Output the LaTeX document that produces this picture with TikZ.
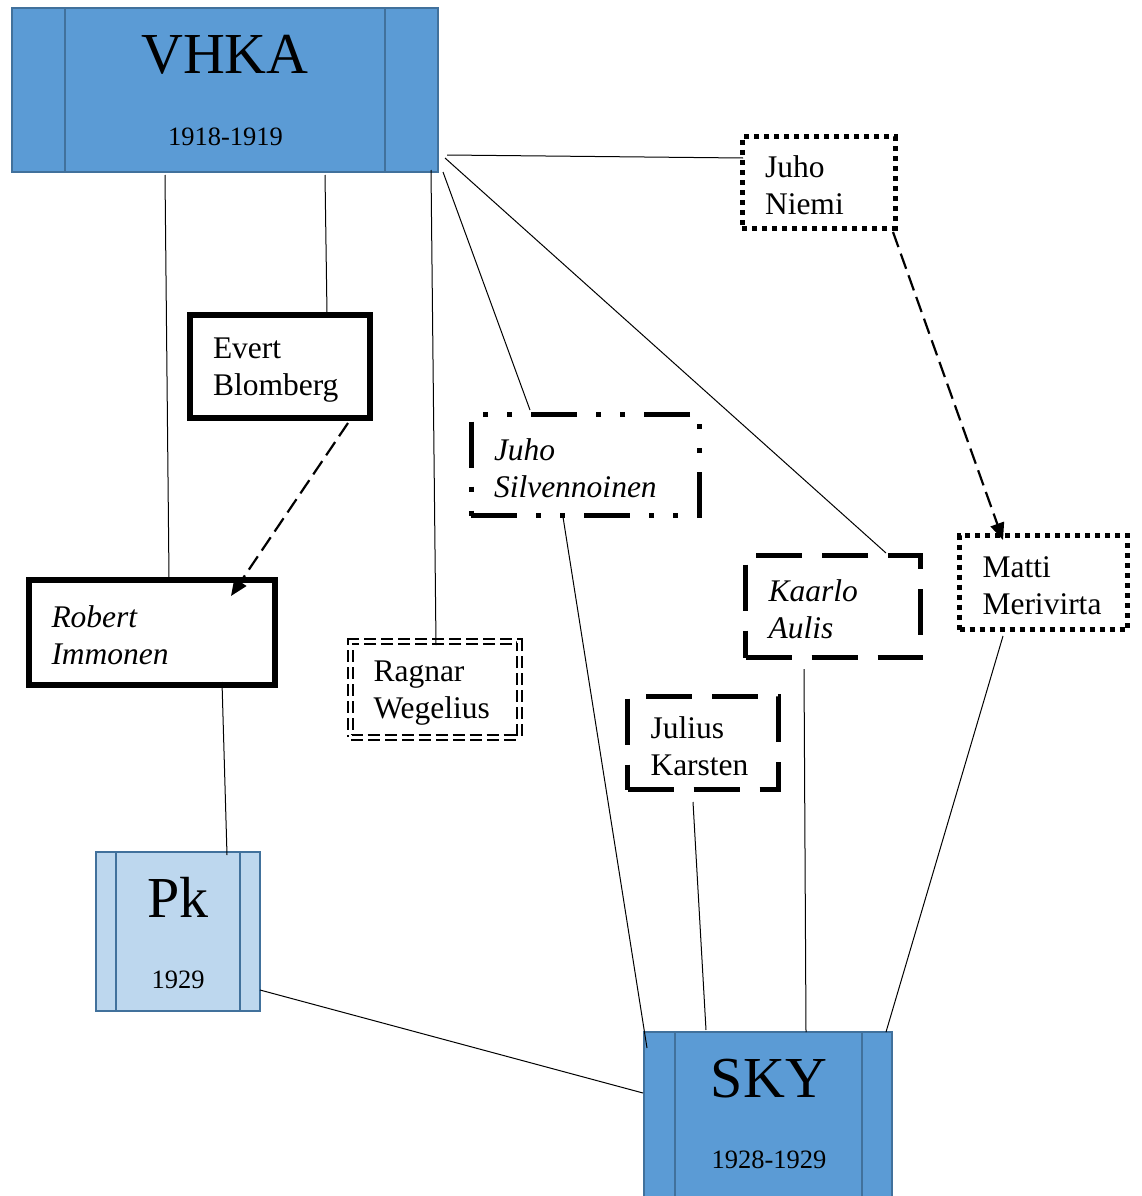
\documentclass[tikz,border=0pt]{standalone}
\usepackage{fontspec}
\setmainfont{Liberation Serif}
\usetikzlibrary{arrows.meta,calc}
\definecolor{boxblue}{HTML}{5B9BD5}
\definecolor{boxlight}{HTML}{BDD7EE}
\definecolor{boxedge}{HTML}{41719C}
\newcommand\toppad{\rule{0pt}{27.5pt}}
\tikzset{
  every node/.style={outer sep=0pt},
  orgbox/.style={rectangle, draw=boxedge, line width=2.5pt, fill=boxblue, inner sep=0pt, anchor=north west},
  orglight/.style={orgbox, fill=boxlight},
  orgline/.style={draw=boxedge, line width=2.5pt},
  bigtitle/.style={anchor=base, font=\fontsize{58}{60}\selectfont},
  yeartext/.style={anchor=base, font=\fontsize{26.5}{30}\selectfont},
  namebox/.style={rectangle, inner sep=0pt, anchor=north west, align=left, font=\fontsize{31.5}{37}\selectfont},
  solidthick/.style={draw, line width=6pt},
  dashdotbox/.style={draw, line width=5pt, dash pattern=on 46pt off 19pt on 5pt off 19pt on 5pt off 19pt},
  longdashbox/.style={draw, line width=5pt, dash pattern=on 46pt off 20pt},
  dotbox/.style={draw, line width=5pt, dash pattern=on 5pt off 5pt},
  doubledashbox/.style={draw, line width=2pt, double, double distance=3pt, dash pattern=on 12pt off 5pt},
  link/.style={draw, line width=1pt},
  dasharrow/.style={draw, line width=2.2pt, dash pattern=on 16pt off 7pt, -{Triangle[length=17pt,width=14pt]}},
}
\begin{document}
\begin{tikzpicture}[x=1pt,y=-1pt]
\useasboundingbox (0,0) rectangle (1141,1196);

% blue boxes
\node[orgbox, minimum width=426pt, minimum height=164pt] (vhka) at (12,8) {};
\draw[orgline] ($(vhka.north west)+(53,0)$) -- ($(vhka.south west)+(53,0)$);
\draw[orgline] ($(vhka.north east)+(-53,0)$) -- ($(vhka.south east)+(-53,0)$);
\node[bigtitle] (vhkaT) at (225,74) {VHKA};
\node[yeartext] (vhkaY) at (225.5,146) {1918-1919};

\node[orglight, minimum width=164pt, minimum height=159pt] (pk) at (96,852) {};
\draw[orgline] ($(pk.north west)+(20,0)$) -- ($(pk.south west)+(20,0)$);
\draw[orgline] ($(pk.north east)+(-20,0)$) -- ($(pk.south east)+(-20,0)$);
\node[bigtitle] (pkT) at (178,917) {Pk};
\node[yeartext] (pkY) at (178,988) {1929};

\node[orgbox, minimum width=248pt, minimum height=173pt] (sky) at (644,1032) {};
\draw[orgline] ($(sky.north west)+(31,0)$) -- ($(sky.south west)+(31,0)$);
\draw[orgline] ($(sky.north east)+(-30,0)$) -- ($(sky.south east)+(-30,0)$);
\node[bigtitle] (skyT) at (769,1097) {SKY};
\node[yeartext] (skyY) at (769,1168) {1928-1929};

% person boxes
\node[namebox, solidthick, minimum width=180pt, minimum height=103.5pt, text width=134pt] (evert) at (190,314.5) {\toppad Evert\\Blomberg};
\node[namebox, solidthick, minimum width=246pt, minimum height=105pt, text width=200pt] (robert) at (28.5,579.5) {\toppad\itshape Robert\\\itshape Immonen};
\node[namebox, dashdotbox, minimum width=228.5pt, minimum height=101pt, text width=182.5pt] (silv) at (471,414.5) {\toppad\itshape Juho\\\itshape Silvennoinen};
\node[namebox, doubledashbox, minimum width=169pt, minimum height=95.5pt, text width=123pt] (ragnar) at (350.5,641.5) {\toppad Ragnar\\Wegelius};
\node[namebox, longdashbox, minimum width=175pt, minimum height=102.5pt, text width=129pt] (kaarlo) at (745.5,555) {\toppad\itshape Kaarlo\\\itshape Aulis};
\node[namebox, dotbox, minimum width=168pt, minimum height=94.5pt, text width=122pt] (matti) at (959.5,535) {\toppad Matti\\Merivirta};
\node[namebox, longdashbox, minimum width=150.5pt, minimum height=93pt, text width=104.5pt] (julius) at (627.5,696.5) {\toppad Julius\\Karsten};
\node[namebox, dotbox, minimum width=153pt, minimum height=91pt, text width=107pt] (niemi) at (742,137) {\toppad Juho\\Niemi};

% connectors
\draw[link] ($(vhka.north east)+(9,147)$) -- ($(niemi.north west)+(1,21)$);
\draw[link] ($(vhka.south west)+(153,3)$) -- ($(robert.north west)+(140.5,-1.5)$);
\draw[link] ($(vhka.south west)+(313,3)$) -- ($(evert.north west)+(137,0)$);
\draw[link] ($(vhka.south east)+(-7,-2)$) -- ($(ragnar.north west)+(85.5,3.5)$);
\draw[link] ($(vhka.south east)+(5,0)$) -- ($(silv.north west)+(59,-4.5)$);
\draw[link] ($(vhka.north east)+(7,150)$) -- ($(kaarlo.north west)+(140.5,-2)$);
\draw[dasharrow] ($(evert.south west)+(158,5)$) -- ($(robert.north west)+(202.5,16.5)$);
\draw[dasharrow] ($(niemi.south east)+(-2,4)$) -- ($(matti.north west)+(43.5,5)$);
\draw[link] ($(robert.south west)+(193.5,-2.5)$) -- ($(pk.north west)+(131,3)$);
\draw[link] ($(pk.north east)+(0,138)$) -- ($(sky.north west)+(-1,61)$);
\draw[link] ($(silv.south west)+(92,1.5)$) -- ($(sky.north west)+(3,16)$);
\draw[link] ($(julius.south west)+(65.5,12.5)$) -- ($(sky.north west)+(62,-2)$);
\draw[link] ($(kaarlo.south west)+(58.5,11.5)$) -- ($(sky.north west)+(162,0)$);
\draw[link] ($(matti.south west)+(43.5,6.5)$) -- ($(sky.north east)+(-6,0)$);
\end{tikzpicture}
\end{document}
